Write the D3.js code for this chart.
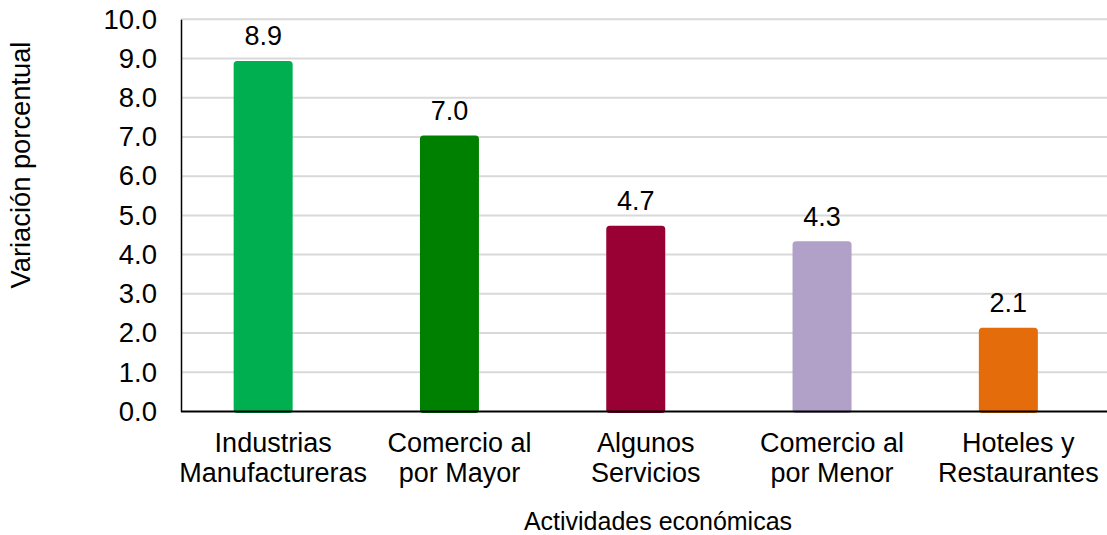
<!DOCTYPE html>
<html>
<head>
<meta charset="utf-8">
<script src="https://cdn.jsdelivr.net/npm/d3@7"></script>
<style>
  body { margin: 0; background: #fff; }
  text { font-family: "Liberation Sans", Arial, sans-serif; fill: #000; }
</style>
</head>
<body>
<svg></svg>
<script>
// datos
const categorias = [
  ["Industrias", "Manufactureras"],
  ["Comercio al", "por Mayor"],
  ["Algunos", "Servicios"],
  ["Comercio al", "por Menor"],
  ["Hoteles y", "Restaurantes"]
];
const valores = [8.9, 7.0, 4.7, 4.3, 2.1];
const colores = ["#00b050", "#008000", "#990033", "#b1a0c7", "#e46c0a"];
const ticksY = [0, 1, 2, 3, 4, 5, 6, 7, 8, 9, 10];

const width = 1107;
const height = 535;
const plotLeft = 181;
const plotTop = 19.3;
const plotBottom = 411.5;
const plotRight = 1112.5;

let svg = d3.select("svg").attr("width", width).attr("height", height);

const claves = categorias.map((c) => c.join(" "));

let xScale = d3.scaleBand().domain(claves).range([plotLeft, plotRight]);
let yScale = d3.scaleLinear().domain([0, 10]).range([plotBottom, plotTop]);

// lineas de cuadricula
svg.append("g")
  .selectAll("line")
  .data(ticksY.slice(1))
  .enter()
  .append("line")
  .attr("x1", plotLeft)
  .attr("x2", width)
  .attr("y1", (d) => yScale(d))
  .attr("y2", (d) => yScale(d))
  .attr("stroke", "#d9d9d9")
  .attr("stroke-width", 2);

// eje y
let yAxis = d3.axisLeft(yScale)
  .tickValues(ticksY)
  .tickFormat(d3.format(".1f"))
  .tickSize(0)
  .tickPadding(24);
let gy = svg.append("g")
  .attr("transform", "translate(" + plotLeft + ",0)")
  .call(yAxis);
gy.select(".domain").attr("stroke", "#000").attr("stroke-width", 1.5);
gy.selectAll("text")
  .style("font-size", "27.5px")
  .style("font-family", "'Liberation Sans', Arial, sans-serif")
  .attr("fill", "#000");

// barras
const barW = 56;
const shift = -11;
svg.selectAll("rect.bar")
  .data(valores)
  .enter()
  .append("rect")
  .attr("class", "bar")
  .attr("x", (d, i) => xScale(claves[i]) + xScale.bandwidth() / 2 + shift - barW / 2)
  .attr("y", (d) => yScale(d))
  .attr("width", barW)
  .attr("height", (d) => yScale(0) - yScale(d))
  .attr("rx", 2)
  .attr("fill", (d, i) => colores[i])
  .attr("stroke", (d, i) => colores[i])
  .attr("stroke-width", 3)
  .attr("stroke-linejoin", "round");

// eje x
let xAxis = d3.axisBottom(xScale).tickSize(0).tickFormat("");
let gx = svg.append("g")
  .attr("transform", "translate(0," + plotBottom + ")")
  .call(xAxis);
gx.select(".domain").attr("stroke", "#000").attr("stroke-width", 2)
  .attr("d", "M" + plotLeft + ",0H" + width);

// etiquetas de categorias
svg.append("g")
  .selectAll("text")
  .data(categorias)
  .enter()
  .append("text")
  .attr("text-anchor", "middle")
  .style("font-size", "27px")
  .each(function (d, i) {
    let t = d3.select(this);
    let cx = xScale(claves[i]) + xScale.bandwidth() / 2 - 1;
    d.forEach((linea, j) => {
      t.append("tspan").attr("x", cx).attr("y", 452 + j * 30).text(linea);
    });
  });

// etiquetas de datos
svg.selectAll("text.lbl")
  .data(valores)
  .enter()
  .append("text")
  .attr("class", "lbl")
  .attr("text-anchor", "middle")
  .style("font-size", "27px")
  .attr("x", (d, i) => xScale(claves[i]) + xScale.bandwidth() / 2 + shift)
  .attr("y", (d) => yScale(d) - 17)
  .text((d) => d.toFixed(1));

// titulos
svg.append("text")
  .attr("text-anchor", "middle")
  .style("font-size", "25px")
  .attr("x", 658)
  .attr("y", 530)
  .text("Actividades económicas");

svg.append("text")
  .attr("text-anchor", "middle")
  .style("font-size", "27.3px")
  .attr("transform", "translate(30,165) rotate(-90)")
  .text("Variación porcentual");
</script>
</body>
</html>
